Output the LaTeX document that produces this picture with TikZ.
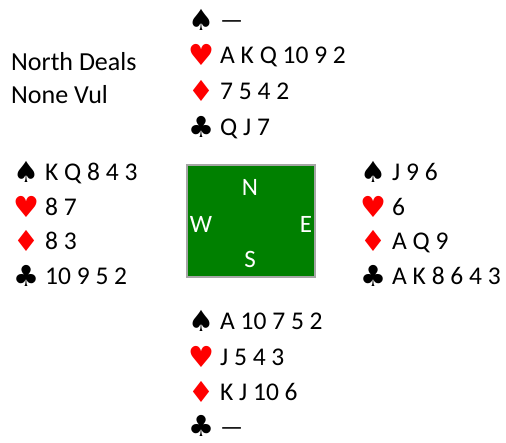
\documentclass[tikz,border=0pt]{standalone}
\usepackage{fontspec}
\setmainfont{Carlito}
\newfontfamily\suitfont{DejaVu Sans}
\definecolor{suitred}{HTML}{FF0000}
\definecolor{felt}{HTML}{008000}
\definecolor{rim}{HTML}{A6A6A6}
\tikzset{
  card/.style={anchor=west, inner sep=0pt, font=\fontsize{25.5}{30}\selectfont, text height=16pt, text depth=0pt},
  info/.style={anchor=west, inner sep=0pt, font=\fontsize{26}{30}\selectfont, text height=16pt, text depth=0pt},
  suit/.style={inner sep=0pt, font=\suitfont\fontsize{29}{32}\selectfont},
  rsuit/.style={suit, text=suitred},
  compass/.style={inner sep=0pt, text=white, font=\fontsize{25}{28}\selectfont},
  table/.style={fill=felt, draw=rim, line width=1.5pt}
}
\begin{document}
\begin{tikzpicture}[x=1pt,y=-1pt]
\useasboundingbox (0,0) rectangle (506,442);
% info
\node[info] (deal) at (11,62) {North Deals};
\node[info] (vul) at (11,95) {None Vul};
% North
\node[suit]  (ns) at (201,20) {♠};
\node[card]  (nst) at (220,20) {—};
\node[rsuit] (nh) at (201,55) {♥};
\node[card]  (nht) at (220,55) {A K Q 10 9 2};
\node[rsuit] (nd) at (201,91) {♦};
\node[card]  (ndt) at (220,91) {7 5 4 2};
\node[suit]  (nc) at (201,127) {♣};
\node[card]  (nct) at (220,127) {Q J 7};
% West
\node[suit]  (ws) at (26,172) {♠};
\node[card]  (wst) at (45,172) {K Q 8 4 3};
\node[rsuit] (wh) at (26,207) {♥};
\node[card]  (wht) at (45,207) {8 7};
\node[rsuit] (wd) at (26,241) {♦};
\node[card]  (wdt) at (45,241) {8 3};
\node[suit]  (wc) at (26,276) {♣};
\node[card]  (wct) at (45,276) {10 9 5 2};
% East
\node[suit]  (es) at (373,172) {♠};
\node[card]  (est) at (392,172) {J 9 6};
\node[rsuit] (eh) at (373,207) {♥};
\node[card]  (eht) at (392,207) {6};
\node[rsuit] (ed) at (373,241) {♦};
\node[card]  (edt) at (392,241) {A Q 9};
\node[suit]  (ec) at (373,276) {♣};
\node[card]  (ect) at (392,276) {A K 8 6 4 3};
% South
\node[suit]  (ss) at (201,321) {♠};
\node[card]  (sst) at (220,321) {A 10 7 5 2};
\node[rsuit] (sh) at (201,357) {♥};
\node[card]  (sht) at (220,357) {J 5 4 3};
\node[rsuit] (sd) at (201,392) {♦};
\node[card]  (sdt) at (220,392) {K J 10 6};
\node[suit]  (sc) at (201,426) {♣};
\node[card]  (sct) at (220,427) {—};
% table
\node[table, minimum width=128pt, minimum height=112pt, inner sep=0pt] (tbl) at (251,221) {};
\node[compass] (cn) at (250,187) {N};
\node[compass] (cw) at (201,224) {W};
\node[compass] (ce) at (306,224) {E};
\node[compass] (cs) at (250,259) {S};
\end{tikzpicture}
\end{document}
